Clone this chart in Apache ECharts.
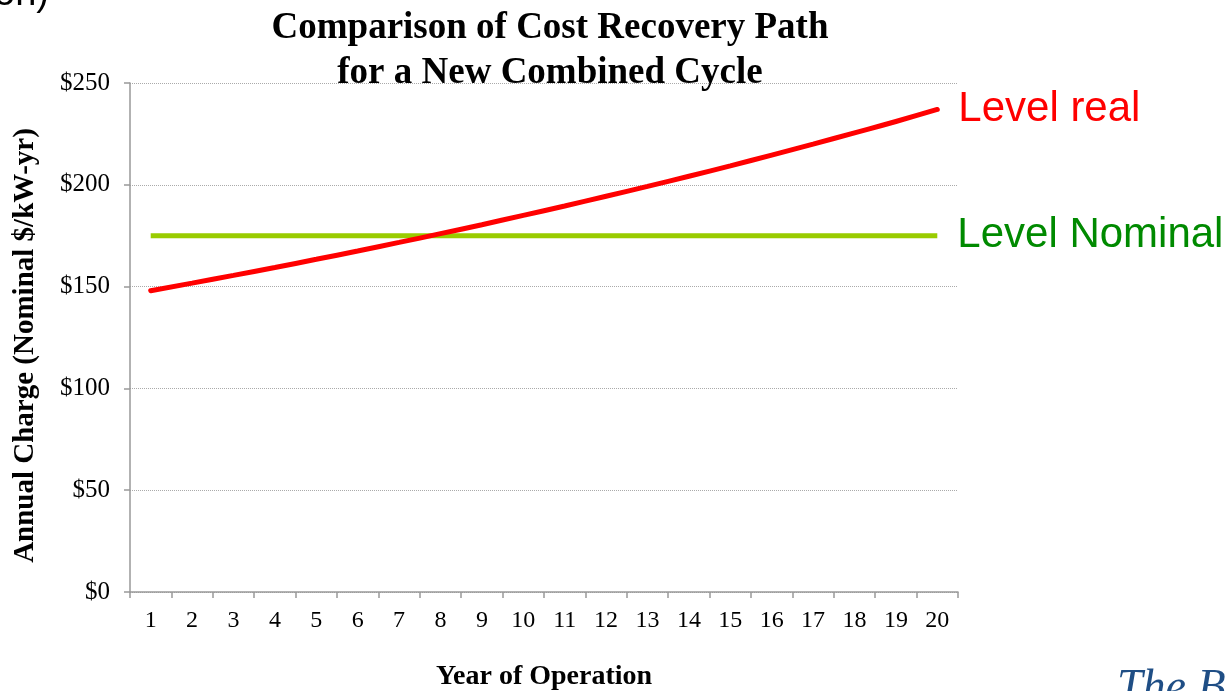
<!DOCTYPE html>
<html>
<head>
<meta charset="utf-8">
<script src="https://cdn.jsdelivr.net/npm/echarts@6/dist/echarts.min.js"></script>
<style>
  html, body { margin: 0; padding: 0; background: #fff; }
  #chart { width: 1228px; height: 691px; }
</style>
</head>
<body>
<div id="chart"></div>
<script>
// Data
const years = ['1','2','3','4','5','6','7','8','9','10','11','12','13','14','15','16','17','18','19','20'];
const levelReal = [148, 151.7, 155.5, 159.4, 163.4, 167.5, 171.7, 176, 180.4, 185, 189.6, 194.4, 199.2, 204.2, 209.3, 214.6, 220, 225.5, 231.1, 237];
const levelNominal = [175, 175, 175, 175, 175, 175, 175, 175, 175, 175, 175, 175, 175, 175, 175, 175, 175, 175, 175, 175];
const yTicks = [0, 50, 100, 150, 200, 250];

const serif = '"Liberation Serif", "DejaVu Serif", serif';
const sans = '"Liberation Sans", Arial, sans-serif';

const chart = echarts.init(document.getElementById('chart'), null, { renderer: 'canvas' });

const option = {
    backgroundColor: '#fff',
    animation: false,
    title: {
        text: 'Comparison of Cost Recovery Path\nfor a New Combined Cycle',
        left: 545,
        top: 1,
        textAlign: 'center',
        textStyle: { fontFamily: serif, fontWeight: 'bold', fontSize: 37, color: '#000', lineHeight: 45 }
    },
    grid: { left: 130, right: 270, top: 83, bottom: 99, outerBoundsMode: 'none', containLabel: false },
    xAxis: {
        type: 'category',
        data: years,
        boundaryGap: true,
        name: 'Year of Operation',
        nameLocation: 'middle',
        nameGap: 71,
        nameTextStyle: { fontFamily: serif, fontWeight: 'bold', fontSize: 28, color: '#000' },
        axisLine: { lineStyle: { color: '#999', width: 1.5 } },
        axisTick: { show: true, length: 6, lineStyle: { color: '#999', width: 1.5 } },
        axisLabel: { fontFamily: serif, fontSize: 24, color: '#000', margin: 17 }
    },
    yAxis: {
        type: 'value',
        min: yTicks[0],
        max: yTicks[yTicks.length - 1],
        interval: 50,
        name: 'Annual Charge (Nominal $/kW-yr)',
        nameLocation: 'middle',
        nameGap: 90,
        nameRotate: 90,
        nameTextStyle: { fontFamily: serif, fontWeight: 'bold', fontSize: 29, color: '#000', padding: [0, 16, 0, 0] },
        axisLine: { show: true, lineStyle: { color: '#999', width: 1.5 } },
        axisTick: { show: true, length: 6, lineStyle: { color: '#999', width: 1.5 } },
        axisLabel: { fontFamily: serif, fontSize: 25, color: '#000', margin: 20, formatter: v => '$' + v },
        splitLine: { lineStyle: { color: '#aaa', type: [1, 1], width: 1 } }
    },
    series: [
        {
            name: 'Level Nominal',
            type: 'line',
            data: levelNominal,
            symbol: 'none',
            lineStyle: { color: '#99cc00', width: 5 },
            endLabel: {
                show: true,
                formatter: 'Level Nominal',
                color: '#008a00',
                fontFamily: sans,
                fontSize: 42,
                distance: 20
            }
        },
        {
            name: 'Level real',
            type: 'line',
            data: levelReal,
            symbol: 'none',
            smooth: true,
            lineStyle: { color: '#ff0000', width: 5, cap: 'round' },
            endLabel: {
                show: true,
                formatter: 'Level real',
                color: '#ff0000',
                fontFamily: sans,
                fontSize: 42,
                distance: 21
            }
        }
    ],
    graphic: [
        {
            type: 'text',
            left: -6,
            top: -24,
            style: { text: 'on)', font: '38px ' + sans, fill: '#000' }
        },
        {
            type: 'text',
            left: 1117,
            top: 666,
            style: { text: 'The Brattle Group', font: 'italic 46px ' + serif, fill: '#1f4e85' }
        }
    ]
};

chart.setOption(option);
</script>
</body>
</html>
